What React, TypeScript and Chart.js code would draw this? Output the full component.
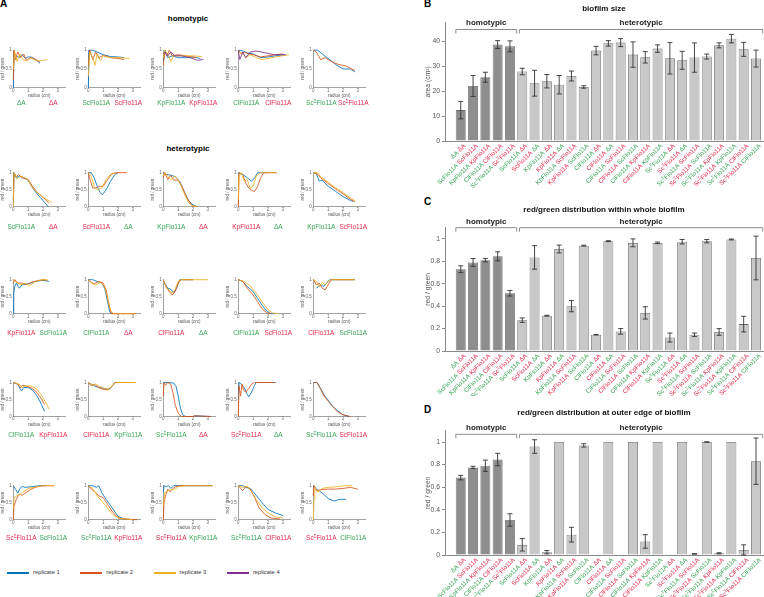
import React, { useEffect, useRef } from 'react';
import { Chart, registerables } from 'chart.js';
Chart.register(...registerables);

const FONT = '"Liberation Sans", Arial, Helvetica, sans-serif';
const GREEN = '#37a556';
const RED = '#e3294d';
const DARK_BAR = '#8e8e8e';
const LIGHT_BAR = '#c8c8c8';
const BAR_EDGE = '#6a6a6a';
const ERR_COLOR = '#333333';
const AXIS = '#8a8a8a';
const TICK_TEXT = '#555555';

const REP_COLORS = ['#0072BD', '#D95319', '#EDB120', '#7E2F8E'];
const REP_LABELS = ['replicate 1', 'replicate 2', 'replicate 3', 'replicate 4'];

// pair labels (first strain, second strain) and colour of first strain
const WORD1 = ['ΔA', 'ScFlo11A', 'KpFlo11A', 'ClFlo11A', 'Sc^ΣFlo11A',
  'ScFlo11A', 'ScFlo11A', 'KpFlo11A', 'KpFlo11A', 'KpFlo11A',
  'KpFlo11A', 'ClFlo11A', 'ClFlo11A', 'ClFlo11A', 'ClFlo11A',
  'ClFlo11A', 'ClFlo11A', 'Sc^ΣFlo11A', 'Sc^ΣFlo11A', 'Sc^ΣFlo11A',
  'Sc^ΣFlo11A', 'Sc^ΣFlo11A', 'Sc^ΣFlo11A', 'Sc^ΣFlo11A', 'Sc^ΣFlo11A'];
const WORD2 = ['ΔA', 'ScFlo11A', 'KpFlo11A', 'ClFlo11A', 'Sc^ΣFlo11A',
  'ΔA', 'ΔA', 'ΔA', 'ΔA', 'ScFlo11A',
  'ScFlo11A', 'ΔA', 'ΔA', 'ScFlo11A', 'ScFlo11A',
  'KpFlo11A', 'KpFlo11A', 'ΔA', 'ΔA', 'ScFlo11A',
  'ScFlo11A', 'KpFlo11A', 'KpFlo11A', 'ClFlo11A', 'ClFlo11A'];
const WORD1_COLOR = ['g', 'g', 'g', 'g', 'g', 'g', 'r', 'g', 'r', 'g', 'r', 'g', 'r', 'g', 'r', 'g', 'r', 'g', 'r', 'g', 'r', 'g', 'r', 'g', 'r'];

// ---------- panel A: red/green vs radius, flat [x, y, x, y, ...] per replicate ----------
const A_dA_dA = [
  [0, 0, 0.05, 0.9, 0.2, 0.85, 0.4, 0.8, 0.6, 0.88, 0.8, 0.78, 1.0, 0.82, 1.2, 0.82, 1.5, 0.75, 1.8, 0.65],
  [0, 0.2, 0.05, 1, 0.15, 0.75, 0.3, 0.95, 0.5, 0.8, 0.7, 0.9, 0.9, 0.72, 1.1, 0.8, 1.4, 0.78, 1.8, 0.68],
  [0, 0.5, 0.1, 0.95, 0.25, 0.7, 0.45, 0.9, 0.65, 0.75, 0.9, 0.72, 1.2, 0.8, 1.5, 0.72, 1.9, 0.72, 2.3, 0.75],
];
const A_Sc_Sc = [
  [0, 0, 0.05, 1, 0.3, 1, 0.6, 0.95, 1.0, 0.88, 1.5, 0.83, 2.0, 0.82, 2.4, 0.8],
  [0, 0.6, 0.1, 1, 0.3, 0.75, 0.5, 0.95, 0.7, 0.8, 1.0, 0.86, 1.5, 0.8, 2.0, 0.78, 2.4, 0.75],
  [0, 0.3, 0.1, 0.95, 0.3, 0.8, 0.45, 0.6, 0.6, 0.9, 0.8, 0.72, 1.0, 0.85, 1.5, 0.8, 2.0, 0.8, 2.8, 0.78],
];
const A_Kp_Kp = [
  [0, 0.7, 0.1, 1, 0.3, 0.8, 0.6, 0.85, 1.0, 0.8, 1.5, 0.8, 2.0, 0.82, 2.5, 0.78],
  [0, 0.6, 0.1, 0.95, 0.25, 0.85, 0.4, 1, 0.6, 0.85, 1.0, 0.88, 1.5, 0.85, 2.2, 0.8],
  [0, 0.8, 0.1, 1, 0.3, 0.9, 0.5, 0.7, 0.7, 0.85, 1.2, 0.85, 2.0, 0.85, 2.6, 0.83],
  [0, 0.9, 0.1, 0.95, 0.3, 0.85, 0.5, 0.95, 0.8, 0.85, 1.2, 0.85, 1.8, 0.8, 2.3, 0.73, 2.7, 0.75],
];
const A_Cl_Cl = [
  [0, 1, 0.3, 0.98, 0.6, 0.93, 1.0, 0.9, 1.5, 0.8, 2.0, 0.82, 2.5, 0.85, 3.1, 0.88],
  [0, 1, 0.2, 0.9, 0.4, 0.95, 0.7, 0.9, 1.0, 0.88, 1.5, 0.82, 2.0, 0.85, 2.5, 0.88, 3.0, 0.9],
  [0, 0.95, 0.3, 0.92, 0.5, 0.8, 0.8, 0.88, 1.2, 0.8, 1.6, 0.75, 2.0, 0.78, 2.5, 0.82, 3.4, 0.88],
  [0, 1, 0.1, 0.75, 0.3, 0.95, 0.5, 0.8, 0.8, 0.95, 1.2, 0.98, 1.8, 0.93, 2.4, 0.88, 3.2, 0.88],
];
const A_Ss_Ss = [
  [0, 1, 0.3, 1, 0.6, 0.9, 1.0, 0.78, 1.5, 0.62, 2.0, 0.5, 2.5, 0.5, 2.8, 0.42],
  [0, 1, 0.2, 0.95, 0.5, 0.75, 0.8, 0.8, 1.2, 0.7, 1.7, 0.62, 2.2, 0.58, 2.8, 0.45],
];
const H_gSc_rdA = [
  [0, 0.1, 0.05, 1, 0.2, 0.85, 0.4, 0.9, 0.7, 0.85, 1.0, 0.78, 1.3, 0.55, 1.6, 0.38, 2.0, 0.18, 2.35, 0],
  [0, 0.2, 0.05, 1, 0.2, 0.88, 0.35, 0.95, 0.6, 0.85, 1.0, 0.8, 1.3, 0.6, 1.6, 0.42, 2.0, 0.28, 2.4, 0.1],
  [0, 0, 0.05, 1, 0.25, 0.82, 0.5, 0.9, 0.8, 0.85, 1.0, 0.78, 1.3, 0.55, 1.7, 0.38, 2.1, 0.25, 2.6, 0.12],
];
const H_gdA_rSc = [
  [0, 1, 0.2, 1, 0.4, 0.85, 0.6, 0.6, 0.8, 0.42, 0.95, 0.35, 1.2, 0.5, 1.5, 0.75, 1.8, 0.95, 2.0, 1],
  [0, 1, 0.15, 0.75, 0.3, 0.55, 0.5, 0.55, 0.7, 0.6, 1.0, 0.6, 1.3, 0.8, 1.6, 0.98, 2.0, 1, 2.6, 1],
  [0, 1, 0.2, 0.9, 0.4, 0.6, 0.6, 0.5, 0.9, 0.55, 1.2, 0.8, 1.5, 0.95, 1.9, 1],
];
const H_gKp_rdA = [
  [0, 1, 0.2, 0.95, 0.5, 0.93, 0.8, 0.88, 1.1, 0.75, 1.4, 0.45, 1.7, 0.18, 2.0, 0.05, 2.3, 0],
  [0, 0.85, 0.1, 1, 0.3, 0.8, 0.5, 0.92, 0.7, 0.78, 1.0, 0.78, 1.3, 0.55, 1.6, 0.25, 1.9, 0.05, 2.2, 0],
  [0, 0.9, 0.1, 1, 0.3, 0.9, 0.5, 0.8, 0.8, 0.9, 1.1, 0.72, 1.4, 0.4, 1.7, 0.12, 2.0, 0.02, 2.3, 0],
];
const H_gdA_rKp = [
  [0, 1, 0.3, 0.95, 0.6, 0.85, 0.9, 0.75, 1.1, 0.85, 1.3, 1, 1.6, 1, 2.0, 1],
  [0, 0, 0.05, 1, 0.3, 0.95, 0.5, 0.7, 0.7, 0.55, 0.9, 0.48, 1.1, 0.45, 1.3, 0.6, 1.5, 0.85, 1.7, 1, 2.6, 1],
  [0, 0.2, 0.05, 0.9, 0.2, 1, 0.4, 0.75, 0.6, 0.8, 0.8, 0.55, 1.0, 0.6, 1.2, 0.9, 1.5, 1, 2.5, 1],
];
const H_gKp_rSc = [
  [0, 1, 0.2, 0.98, 0.4, 0.75, 0.6, 0.78, 1.0, 0.6, 1.5, 0.45, 2.0, 0.3, 2.5, 0.18, 2.7, 0.15],
  [0, 1, 0.3, 0.95, 0.5, 0.85, 1.0, 0.68, 1.5, 0.52, 2.0, 0.38, 2.5, 0.22, 2.8, 0.15],
  [0, 1, 0.3, 1, 0.5, 0.88, 1.0, 0.72, 1.5, 0.56, 2.0, 0.42, 2.5, 0.25, 2.8, 0.18],
];
const H_gSc_rKp = [
  [0, 0, 0.03, 0.6, 0.1, 0.8, 0.2, 0.9, 0.4, 0.75, 0.6, 0.85, 1.0, 0.88, 1.5, 0.95, 2.0, 0.98, 2.4, 0.95],
  [0, 0.9, 0.1, 1, 0.3, 0.9, 0.6, 0.9, 0.9, 0.85, 1.2, 0.92, 1.6, 0.97, 2.0, 1, 2.3, 0.98],
  [0, 1, 0.2, 0.92, 0.5, 0.85, 0.8, 0.9, 1.1, 0.82, 1.5, 0.95, 2.0, 1, 2.3, 1],
];
const H_gCl_rdA = [
  [0, 1, 0.3, 1, 0.6, 0.95, 0.9, 0.9, 1.1, 0.75, 1.3, 0.35, 1.45, 0.05, 1.6, 0],
  [0, 1, 0.2, 0.92, 0.4, 0.88, 0.7, 0.95, 1.0, 0.9, 1.2, 0.7, 1.4, 0.25, 1.55, 0, 3.2, 0],
  [0, 1, 0.2, 0.9, 0.5, 0.85, 0.8, 0.92, 1.1, 0.8, 1.3, 0.45, 1.5, 0.1, 1.7, 0, 3.2, 0],
];
const H_gdA_rCl = [
  [0, 1, 0.15, 0.85, 0.3, 0.75, 0.5, 0.72, 0.7, 0.62, 0.9, 0.75, 1.1, 1, 2.0, 1],
  [0, 0.95, 0.2, 0.8, 0.4, 0.65, 0.6, 0.55, 0.8, 0.65, 1.0, 0.9, 1.2, 1, 2.0, 1],
  [0, 1, 0.2, 0.75, 0.4, 0.7, 0.6, 0.6, 0.8, 0.72, 1.0, 0.95, 1.2, 1, 3.0, 1],
];
const H_gCl_rSc = [
  [0, 1, 0.3, 0.95, 0.6, 0.8, 1.0, 0.65, 1.3, 0.45, 1.6, 0.25, 1.9, 0.08, 2.2, 0, 2.5, 0],
  [0, 1, 0.3, 0.95, 0.6, 0.75, 1.0, 0.55, 1.3, 0.35, 1.6, 0.15, 1.9, 0.03, 2.2, 0],
  [0, 1, 0.4, 0.95, 0.7, 0.85, 1.0, 0.72, 1.3, 0.55, 1.6, 0.35, 2.0, 0.12, 2.3, 0.02, 2.7, 0],
];
const H_gSc_rCl = [
  [0.2, 0.75, 0.35, 0.8, 0.5, 0.85, 0.7, 0.8, 0.9, 0.9, 1.1, 1, 2.8, 1],
  [0, 1, 0.2, 0.85, 0.4, 0.9, 0.6, 0.75, 0.8, 0.7, 1.0, 0.85, 1.2, 1, 2.8, 1],
  [0, 1, 0.2, 0.95, 0.4, 0.8, 0.6, 0.92, 0.8, 0.85, 1.0, 0.95, 1.2, 1, 2.8, 1],
];
const H_gCl_rKp = [
  [0, 1, 0.3, 0.95, 0.55, 0.75, 0.7, 0.85, 1.0, 0.85, 1.3, 0.78, 1.6, 0.6, 1.9, 0.35, 2.1, 0.15],
  [0, 1, 0.3, 0.95, 0.5, 0.85, 0.6, 0.92, 1.0, 0.88, 1.3, 0.82, 1.6, 0.7, 1.9, 0.52, 2.1, 0.35],
  [0, 1, 0.4, 0.95, 0.6, 0.85, 0.8, 0.9, 1.2, 0.9, 1.6, 0.8, 1.9, 0.62, 2.2, 0.4, 2.4, 0.22],
];
const H_gKp_rCl = [
  [0, 1, 0.2, 0.95, 0.5, 0.88, 0.8, 0.85, 1.1, 0.82, 1.4, 0.8, 1.6, 0.88, 1.8, 1, 3.1, 1],
  [0, 1, 0.2, 0.9, 0.4, 0.95, 0.7, 0.85, 1.0, 0.8, 1.3, 0.78, 1.5, 0.85, 1.8, 1, 3.1, 1],
  [0, 1, 0.3, 0.92, 0.5, 0.95, 0.8, 0.88, 1.1, 0.82, 1.4, 0.8, 1.7, 0.95, 1.9, 1, 3.2, 1],
];
const H_gSs_rdA = [
  [0, 1, 0.4, 1, 0.7, 0.98, 0.85, 0.9, 1.0, 0.6, 1.15, 0.25, 1.3, 0.05, 1.5, 0, 2.0, 0, 2.1, 0.02, 3.2, 0],
  [0, 0.6, 0.05, 1, 0.15, 0.92, 0.3, 1, 0.5, 0.95, 0.65, 0.7, 0.8, 0.35, 1.0, 0.1, 1.2, 0, 2.0, 0, 2.1, 0.02, 3.2, 0],
];
const H_gdA_rSs = [
  [0, 0.5, 0.05, 1, 0.2, 0.95, 0.4, 0.85, 0.6, 0.65, 0.7, 0.58, 0.9, 0.72, 1.1, 0.92, 1.2, 1, 2.5, 1],
  [0, 0, 0.05, 0.9, 0.15, 0.6, 0.25, 0.95, 0.35, 0.78, 0.5, 0.72, 0.7, 0.82, 0.9, 0.95, 1.1, 1, 2.5, 1],
];
const H_gSs_rSc = [
  [0, 1, 0.25, 1, 0.5, 0.82, 0.7, 0.65, 1.0, 0.48, 1.3, 0.3, 1.6, 0.18, 2.0, 0.05, 2.4, 0],
  [0, 1, 0.25, 1, 0.5, 0.8, 0.7, 0.62, 1.0, 0.45, 1.3, 0.3, 1.6, 0.15, 2.0, 0.05, 2.5, 0],
];
const H_gSc_rSs = [
  [0, 1, 0.15, 0.9, 0.3, 0.78, 0.45, 0.92, 0.6, 0.98, 0.8, 0.95, 1.2, 0.97, 1.8, 1, 2.2, 1],
  [0, 0, 0.05, 0.4, 0.2, 0.6, 0.4, 0.75, 0.6, 0.72, 0.8, 0.78, 1.2, 0.9, 1.6, 0.97, 2.0, 1, 2.7, 1],
  [0, 0.3, 0.05, 0.65, 0.2, 0.7, 0.4, 0.72, 0.6, 0.8, 1.0, 0.92, 1.4, 0.95, 2.0, 1, 2.8, 1],
];
const H_gSs_rKp = [
  [0, 1, 0.3, 1, 0.55, 0.95, 0.7, 1, 0.9, 0.8, 1.2, 0.6, 1.6, 0.35, 2.0, 0.1, 2.4, 0.02, 3.1, 0],
  [0, 1, 0.2, 0.9, 0.5, 0.8, 0.7, 0.7, 1.0, 0.65, 1.3, 0.45, 1.6, 0.25, 2.0, 0.05, 2.5, 0.02, 3.3, 0],
  [0, 1, 0.3, 0.92, 0.6, 0.7, 0.9, 0.55, 1.2, 0.4, 1.5, 0.22, 1.8, 0.1, 2.2, 0.03, 3.0, 0],
];
const H_gKp_rSs = [
  [0, 0.8, 0.05, 1, 0.2, 0.97, 0.35, 1, 0.5, 0.92, 0.7, 1, 1.0, 1, 3.3, 1],
  [0, 0, 0.05, 0.5, 0.15, 0.7, 0.3, 0.9, 0.45, 0.82, 0.6, 0.9, 0.8, 0.97, 1.2, 1, 3.3, 1],
  [0, 0.4, 0.1, 0.8, 0.3, 0.85, 0.5, 0.88, 0.8, 0.9, 1.0, 0.97, 1.4, 1, 3.3, 1],
];
const H_gSs_rCl = [
  [0, 1, 0.3, 1, 0.5, 0.95, 0.8, 0.92, 1.2, 0.72, 1.6, 0.5, 2.0, 0.3, 2.5, 0.2, 3.0, 0.12],
  [0, 1, 0.3, 0.85, 0.5, 0.98, 0.8, 0.9, 1.1, 0.65, 1.4, 0.35, 1.8, 0.15, 2.2, 0.05, 2.8, 0.02],
  [0, 1, 0.3, 0.95, 0.6, 0.98, 0.9, 0.82, 1.2, 0.6, 1.6, 0.35, 2.0, 0.2, 2.5, 0.08, 3.0, 0.05],
];
const H_gCl_rSs = [
  [0, 0.95, 0.05, 1, 0.2, 0.9, 0.4, 0.85, 0.7, 0.75, 1.0, 0.62, 1.4, 0.55, 1.8, 0.6, 2.2, 0.6],
  [0, 0.7, 0.05, 1, 0.2, 0.85, 0.5, 0.88, 1.0, 0.9, 1.5, 0.9, 2.0, 0.92, 2.5, 0.95, 3.0, 0.9],
  [0, 0, 0.05, 0.6, 0.1, 0.95, 0.3, 0.82, 0.6, 0.92, 1.0, 0.95, 1.6, 0.97, 2.2, 1, 2.6, 1],
];

const A_PANELS = [
  A_dA_dA, A_Sc_Sc, A_Kp_Kp, A_Cl_Cl, A_Ss_Ss,
  H_gSc_rdA, H_gdA_rSc, H_gKp_rdA, H_gdA_rKp, H_gKp_rSc,
  H_gSc_rKp, H_gCl_rdA, H_gdA_rCl, H_gCl_rSc, H_gSc_rCl,
  H_gCl_rKp, H_gKp_rCl, H_gSs_rdA, H_gdA_rSs, H_gSs_rSc,
  H_gSc_rSs, H_gSs_rKp, H_gKp_rSs, H_gSs_rCl, H_gCl_rSs,
];

const RADIUS_TICKS = [0, 1, 2, 3];
const SMALL_RATIO_TICKS = [0, 0.5, 1];
const AREA_TICKS = [0, 10, 20, 30, 40];
const RATIO_TICKS = [0, 0.2, 0.4, 0.6, 0.8, 1];

// ---------- panels B, C, D ----------
const SIZE_MEAN = [12.4, 22.1, 25.6, 38.7, 38.0, 27.9, 23.2, 24.0, 22.6, 26.1, 21.7, 36.3, 39.2, 39.5, 34.7, 33.6, 37.1, 33.2, 32.4, 33.5, 33.9, 38.4, 41.1, 36.8, 33.1];
const SIZE_ERR = [3.5, 4.2, 2.0, 1.6, 2.2, 1.3, 5.2, 2.7, 3.7, 2.0, 0.5, 1.7, 1.1, 1.6, 5.1, 2.3, 1.5, 6.3, 3.6, 5.9, 1.0, 1.0, 1.7, 2.8, 3.4];
const WHOLE_MEAN = [0.73, 0.79, 0.81, 0.845, 0.515, 0.275, 0.835, 0.315, 0.91, 0.40, 0.94, 0.145, 0.98, 0.175, 0.965, 0.34, 0.965, 0.12, 0.975, 0.145, 0.98, 0.17, 0.995, 0.24, 0.83];
const WHOLE_ERR = [0.03, 0.035, 0.015, 0.04, 0.025, 0.02, 0.105, 0.004, 0.035, 0.05, 0.004, 0.002, 0.004, 0.025, 0.035, 0.055, 0.007, 0.04, 0.02, 0.015, 0.015, 0.03, 0.004, 0.07, 0.195];
const EDGE_MEAN = [0.685, 0.775, 0.79, 0.845, 0.31, 0.09, 0.96, 0.025, 1.0, 0.18, 0.97, 0.004, 1.0, 0.004, 1.0, 0.12, 1.0, 0.006, 1.0, 0.01, 1.0, 0.015, 1.0, 0.045, 0.83];
const EDGE_ERR = [0.02, 0.01, 0.05, 0.055, 0.055, 0.055, 0.06, 0.015, 0, 0.065, 0.015, 0, 0, 0, 0, 0.06, 0, 0, 0, 0.002, 0.002, 0.005, 0, 0.045, 0.205];

// ---------- helpers ----------
type Run = { t: string; sup: boolean };
function runs(s: string): Run[] {
  const out: Run[] = [];
  let buf = '';
  for (let i = 0; i < s.length; i++) {
    if (s[i] === '^' && i + 1 < s.length) {
      if (buf) out.push({ t: buf, sup: false });
      buf = '';
      out.push({ t: s[i + 1], sup: true });
      i++;
    } else buf += s[i];
  }
  if (buf) out.push({ t: buf, sup: false });
  return out;
}
function fnt(size: number, bold = false) {
  return `${bold ? 'bold ' : ''}${size}px ${FONT}`;
}
function richWidth(ctx: CanvasRenderingContext2D, s: string, size: number) {
  let w = 0;
  for (const r of runs(s)) {
    ctx.font = fnt(r.sup ? size * 0.68 : size);
    w += ctx.measureText(r.t).width;
  }
  return w;
}
function drawRich(ctx: CanvasRenderingContext2D, s: string, x: number, y: number, size: number, color: string) {
  ctx.fillStyle = color;
  ctx.textAlign = 'left';
  ctx.textBaseline = 'middle';
  let cx = x;
  for (const r of runs(s)) {
    const fs = r.sup ? size * 0.68 : size;
    ctx.font = fnt(fs);
    ctx.fillText(r.t, cx, r.sup ? y - size * 0.32 : y);
    cx += ctx.measureText(r.t).width;
  }
  return cx;
}
const colorOf = (i: number, first: boolean) => {
  const g = WORD1_COLOR[i] === 'g';
  return (first ? g : !g) ? GREEN : RED;
};
const toPts = (f: number[]) => {
  const p: { x: number; y: number }[] = [];
  for (let i = 0; i < f.length; i += 2) p.push({ x: f[i], y: f[i + 1] });
  return p;
};

// ---------- small line charts (panel A) ----------
const A_ROWS = [
  { top: 50, h: 37.7, lab: 16 },
  { top: 172.7, h: 34, lab: 20.5 },
  { top: 279.7, h: 34, lab: 19.8 },
  { top: 382.5, h: 34, lab: 19.2 },
  { top: 485.7, h: 34, lab: 18.7 },
];
const A_AXIS_W = 13.3;
const A_PLOT_W = 52;
const A_XAXIS_H = 10.5;
const TINY = 4.5;
const PAIR_FONT = 6.5;

function SmallChart({ idx }: { idx: number }) {
  const ref = useRef<HTMLCanvasElement>(null);
  const row = Math.floor(idx / 5);
  const col = idx % 5;
  const R = A_ROWS[row];
  const canvasTop = Math.floor(R.top) - 4;
  const padTop = R.top - canvasTop;
  const W = 74;
  const H = Math.ceil(padTop + R.h + R.lab + 8);
  useEffect(() => {
    const reps = A_PANELS[idx];
    const labelPlugin = {
      id: 'pairLabel',
      afterDraw(chart: any) {
        const { ctx, chartArea } = chart;
        ctx.save();
        const y = chartArea.bottom + R.lab;
        const w1 = richWidth(ctx, WORD1[idx], PAIR_FONT);
        const w2 = richWidth(ctx, WORD2[idx], PAIR_FONT);
        drawRich(ctx, WORD1[idx], chartArea.left + 8 - w1 / 2, y, PAIR_FONT, colorOf(idx, true));
        drawRich(ctx, WORD2[idx], chartArea.left + 40 - w2 / 2, y, PAIR_FONT, colorOf(idx, false));
        ctx.restore();
      },
    };
    const chart = new Chart(ref.current as HTMLCanvasElement, {
      type: 'line',
      data: {
        datasets: reps.map((flat, i) => ({
          data: toPts(flat),
          borderColor: REP_COLORS[i],
          borderWidth: 0.85,
          pointRadius: 0,
          tension: 0,
          fill: false,
          order: -i,
          clip: 2,
        })),
      } as any,
      options: {
        responsive: false,
        animation: false,
        events: [],
        layout: { padding: { left: 0, top: padTop, right: W - A_AXIS_W - A_PLOT_W, bottom: H - padTop - R.h - A_XAXIS_H } },
        plugins: { legend: { display: false }, tooltip: { enabled: false } },
        scales: {
          x: {
            type: 'linear',
            min: 0,
            max: 3.5,
            grid: { display: true, drawOnChartArea: false, drawTicks: false, color: AXIS },
            border: { display: true, color: AXIS, width: 0.8 },
            ticks: { font: { family: FONT, size: TINY }, color: '#666', padding: 0, maxRotation: 0, autoSkip: false },
            title: { display: true, text: 'radius (cm)', font: { family: FONT, size: TINY }, color: '#555', padding: 0 },
            afterBuildTicks: (s: any) => { s.ticks = RADIUS_TICKS.map((v) => ({ value: v })); },
            afterFit: (s: any) => { s.height = A_XAXIS_H; },
          },
          y: {
            min: 0,
            max: 1,
            grid: { display: true, drawOnChartArea: false, drawTicks: false, color: AXIS },
            border: { display: true, color: AXIS, width: 0.8 },
            ticks: { font: { family: FONT, size: TINY }, color: '#666', padding: 1.5, autoSkip: false, callback: (v: any) => `${Number(v)}` },
            title: { display: true, text: 'red / green', font: { family: FONT, size: TINY }, color: '#555', padding: 0 },
            afterBuildTicks: (s: any) => { s.ticks = SMALL_RATIO_TICKS.map((v) => ({ value: v })); },
            afterFit: (s: any) => { s.width = A_AXIS_W; },
          },
        },
      } as any,
      plugins: [labelPlugin],
    });
    return () => chart.destroy();
  }, []);
  return (
    <canvas
      ref={ref}
      width={W}
      height={H}
      style={{ position: 'absolute', left: col * 75, top: canvasTop, width: W, height: H }}
    />
  );
}

// ---------- bar charts (panels B, C, D) ----------
type BarCfg = {
  top: number;
  height: number;
  chartTop: number;
  chartBottom: number;
  means: number[];
  errs: number[];
  yMax: number;
  ticks: number[];
  yTitle: string;
  title: string;
  titleY: number;
  bracketTextY: number;
  bracketY: number;
};

function BarPanel(cfg: BarCfg) {
  const ref = useRef<HTMLCanvasElement>(null);
  useEffect(() => {
    const deco = {
      id: 'barDeco',
      afterDatasetsDraw(chart: any) {
        const { ctx, scales } = chart;
        const x = scales.x, y = scales.y;
        ctx.save();
        ctx.strokeStyle = ERR_COLOR;
        ctx.lineWidth = 0.9;
        cfg.means.forEach((m, i) => {
          const e = cfg.errs[i];
          if (!e) return;
          const px = x.getPixelForValue(i + 1);
          const y1 = y.getPixelForValue(m - e);
          const y2 = y.getPixelForValue(m + e);
          ctx.beginPath();
          ctx.moveTo(px, y1); ctx.lineTo(px, y2);
          ctx.moveTo(px - 2.5, y1); ctx.lineTo(px + 2.5, y1);
          ctx.moveTo(px - 2.5, y2); ctx.lineTo(px + 2.5, y2);
          ctx.stroke();
        });
        ctx.restore();
      },
      afterDraw(chart: any) {
        const { ctx, chartArea, scales } = chart;
        const x = scales.x;
        ctx.save();
        ctx.font = fnt(8, true);
        ctx.fillStyle = '#111';
        ctx.textAlign = 'center';
        ctx.textBaseline = 'middle';
        ctx.fillText(cfg.title, (chartArea.left + chartArea.right) / 2, cfg.titleY);
        const brackets: [number, number, string][] = [[0.6, 5.55, 'homotypic'], [5.78, 25.55, 'heterotypic']];
        ctx.strokeStyle = '#8c8c8c';
        ctx.lineWidth = 1;
        for (const [a, b, txt] of brackets) {
          const xa = x.getPixelForValue(a), xb = x.getPixelForValue(b);
          ctx.beginPath();
          ctx.moveTo(xa, cfg.bracketY + 4); ctx.lineTo(xa, cfg.bracketY);
          ctx.lineTo(xb, cfg.bracketY); ctx.lineTo(xb, cfg.bracketY + 4);
          ctx.stroke();
          ctx.font = fnt(8, true);
          ctx.fillStyle = '#222';
          ctx.textAlign = 'center';
          ctx.fillText(txt, (xa + xb) / 2, cfg.bracketTextY);
        }
        const size = 6.2;
        for (let i = 0; i < WORD1.length; i++) {
          const ax = x.getPixelForValue(i + 1) + 4;
          const ay = chartArea.bottom + 4;
          const w1 = richWidth(ctx, WORD1[i], size);
          ctx.font = fnt(size);
          const wsp = ctx.measureText(' ').width;
          const w2 = richWidth(ctx, WORD2[i], size);
          ctx.save();
          ctx.translate(ax, ay);
          ctx.rotate(-Math.PI / 4);
          const sx = -(w1 + wsp + w2);
          drawRich(ctx, WORD1[i], sx, 0, size, colorOf(i, true));
          drawRich(ctx, WORD2[i], sx + w1 + wsp, 0, size, colorOf(i, false));
          ctx.restore();
        }
        ctx.restore();
      },
    };
    const chart = new Chart(ref.current as HTMLCanvasElement, {
      type: 'bar',
      data: {
        datasets: [{
          data: cfg.means.map((v, i) => ({ x: i + 1, y: v })),
          backgroundColor: cfg.means.map((_, i) => (i < 5 ? DARK_BAR : LIGHT_BAR)),
          borderColor: BAR_EDGE,
          borderWidth: 0.8,
          barPercentage: 0.9,
          categoryPercentage: 0.9,
        }],
      } as any,
      options: {
        responsive: false,
        animation: false,
        events: [],
        layout: { padding: { left: 34, right: 1, top: cfg.chartTop, bottom: cfg.height - cfg.chartBottom - 1 } },
        plugins: { legend: { display: false }, tooltip: { enabled: false }, title: { display: false } },
        scales: {
          x: {
            type: 'linear',
            min: -0.28,
            max: 25.57,
            offset: false,
            grid: { display: true, drawOnChartArea: false, drawTicks: false, color: AXIS },
            border: { display: true, color: AXIS },
            ticks: { display: false },
            afterFit: (s: any) => { s.height = 1; },
          },
          y: {
            min: 0,
            max: cfg.yMax,
            grid: { display: true, drawOnChartArea: false, drawTicks: true, tickLength: 3, color: AXIS },
            border: { display: true, color: AXIS },
            ticks: { font: { family: FONT, size: 6.8 }, color: TICK_TEXT, padding: 2, autoSkip: false, callback: (v: any) => `${Number(v)}` },
            title: { display: true, text: cfg.yTitle, font: { family: FONT, size: 6.8 }, color: TICK_TEXT, padding: 0 },
            afterBuildTicks: (s: any) => { s.ticks = cfg.ticks.map((v) => ({ value: v })); },
            afterFit: (s: any) => { s.width = 21; },
          },
        },
      } as any,
      plugins: [deco],
    });
    return () => chart.destroy();
  }, []);
  return (
    <canvas
      ref={ref}
      width={374}
      height={cfg.height}
      style={{ position: 'absolute', left: 390, top: cfg.top, width: 374, height: cfg.height }}
    />
  );
}

const abs = (left: number, top: number, extra: React.CSSProperties = {}): React.CSSProperties => ({
  position: 'absolute', left, top, lineHeight: 1, whiteSpace: 'nowrap', fontFamily: FONT, ...extra,
});

export default function App() {
  useEffect(() => {
    document.body.style.margin = '0';
  }, []);
  return (
    <div style={{ position: 'absolute', left: 0, top: 0, width: 764, height: 597, background: '#fff', overflow: 'hidden', fontFamily: FONT }}>
      <div style={abs(0, -1, { fontSize: 10, fontWeight: 'bold' })}>A</div>
      <div style={abs(148, 14.5, { fontSize: 8, fontWeight: 'bold', width: 80, textAlign: 'center' })}>homotypic</div>
      <div style={abs(148, 144.5, { fontSize: 8, fontWeight: 'bold', width: 80, textAlign: 'center' })}>heterotypic</div>
      {A_PANELS.map((_, i) => <SmallChart key={i} idx={i} />)}
      {REP_LABELS.map((lab, i) => (
        <React.Fragment key={lab}>
          <div style={abs(7 + i * 73.3, 572, { width: 22, height: 1.8, background: REP_COLORS[i] })} />
          <div style={abs(33 + i * 73.3, 570, { fontSize: 5.8, color: '#333' })}>{lab}</div>
        </React.Fragment>
      ))}
      <div style={abs(424, -1, { fontSize: 10, fontWeight: 'bold' })}>B</div>
      <div style={abs(424, 197, { fontSize: 10, fontWeight: 'bold' })}>C</div>
      <div style={abs(424, 405, { fontSize: 10, fontWeight: 'bold' })}>D</div>
      <BarPanel top={0} height={195} chartTop={22.7} chartBottom={141} means={SIZE_MEAN} errs={SIZE_ERR} yMax={47.5}
        ticks={AREA_TICKS} yTitle="area (cm²)" title="biofilm size" titleY={9} bracketTextY={23} bracketY={29.5} />
      <BarPanel top={196} height={200} chartTop={31.7} chartBottom={155} means={WHOLE_MEAN} errs={WHOLE_ERR} yMax={1.1}
        ticks={RATIO_TICKS} yTitle="red / green" title="red/green distribution within whole biofilm" titleY={14} bracketTextY={25.7} bracketY={31.7} />
      <BarPanel top={398} height={199} chartTop={32.7} chartBottom={157} means={EDGE_MEAN} errs={EDGE_ERR} yMax={1.1}
        ticks={RATIO_TICKS} yTitle="red / green" title="red/green distribution at outer edge of biofilm" titleY={15} bracketTextY={29.3} bracketY={36.3} />
    </div>
  );
}
